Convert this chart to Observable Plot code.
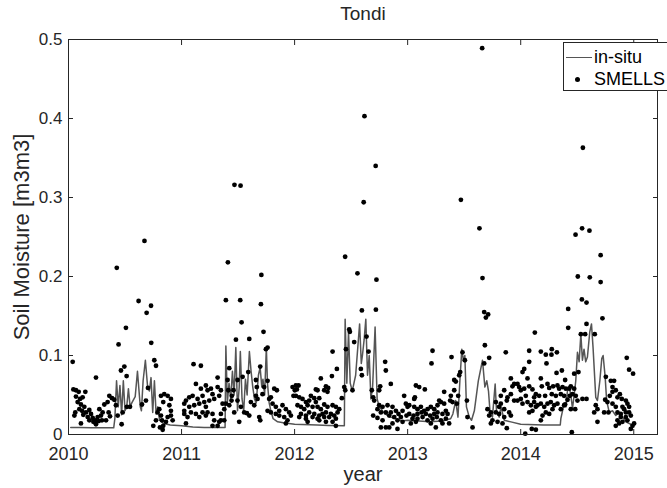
<!DOCTYPE html>
<html><head><meta charset="utf-8">
<script src="https://cdn.jsdelivr.net/npm/d3@7"></script>
<script src="https://cdn.jsdelivr.net/npm/@observablehq/plot@0.6"></script>
<style>
html,body{margin:0;padding:0;background:#fff;overflow:hidden;}
#wrap{position:relative;width:667px;height:488px;overflow:hidden;}
#legend{position:absolute;left:563px;top:42px;width:120px;height:47px;border:1px solid #262626;background:#fff;font-family:"Liberation Sans",Arial,sans-serif;font-size:18px;color:#000;}
#legend .row{position:absolute;left:0;height:22px;line-height:22px;white-space:nowrap;}
#legend .sw{display:inline-block;position:relative;width:28px;height:22px;vertical-align:top;}
#legend .ln{position:absolute;left:2px;top:11px;width:26px;height:0;border-top:1.4px solid #555;}
#legend .dt{position:absolute;left:11px;top:9px;width:5px;height:5px;border-radius:50%;background:#000;}
#legend .tx{display:inline-block;vertical-align:top;margin-left:2px;}
</style></head><body><div id="wrap"></div>
<script>
const title = "Tondi";
const xLabel = "year";
const yLabel = "Soil Moisture [m3m3]";
const seriesNames = ["in-situ", "SMELLS"];
const xTicks = [2010, 2011, 2012, 2013, 2014, 2015];
const yTicks = [0, 0.1, 0.2, 0.3, 0.4, 0.5];
const xDomain = [2010, 2015.21];
const yDomain = [0, 0.5];

const insitu = [
[2010.02,0.009],[2010.1,0.0088],[2010.2,0.0086],[2010.3,0.0085],[2010.4,0.0085],
[2010.41,0.02],[2010.425,0.068],[2010.44,0.035],[2010.455,0.062],[2010.47,0.025],[2010.485,0.068],[2010.5,0.03],[2010.515,0.035],[2010.53,0.058],[2010.545,0.035],[2010.56,0.04],[2010.59,0.048],[2010.61,0.08],[2010.635,0.035],[2010.645,0.03],[2010.66,0.068],[2010.68,0.094],[2010.7,0.06],[2010.715,0.055],[2010.73,0.072],[2010.745,0.028],[2010.76,0.068],[2010.775,0.026],[2010.79,0.035],[2010.805,0.018],[2010.84,0.014],[2010.9,0.012],
[2011.0,0.011],[2011.1,0.0095],[2011.2,0.009],[2011.3,0.0088],[2011.385,0.0088],[2011.392,0.112],[2011.405,0.04],[2011.42,0.065],[2011.435,0.045],[2011.45,0.08],[2011.465,0.05],[2011.48,0.11],[2011.495,0.03],[2011.51,0.06],[2011.52,0.105],[2011.535,0.045],[2011.55,0.03],[2011.565,0.07],[2011.58,0.05],[2011.6,0.105],[2011.615,0.08],[2011.63,0.06],[2011.645,0.045],[2011.66,0.04],[2011.68,0.075],[2011.695,0.085],[2011.71,0.06],[2011.72,0.07],[2011.735,0.05],[2011.75,0.11],[2011.76,0.065],[2011.775,0.04],[2011.79,0.03],[2011.81,0.02],[2011.85,0.016],[2011.9,0.015],
[2012.0,0.013],[2012.2,0.012],[2012.3,0.0115],[2012.44,0.011],[2012.447,0.146],[2012.462,0.065],[2012.477,0.13],[2012.492,0.065],[2012.51,0.055],[2012.525,0.065],[2012.54,0.075],[2012.575,0.14],[2012.59,0.09],[2012.6,0.1],[2012.615,0.12],[2012.63,0.146],[2012.645,0.075],[2012.66,0.1],[2012.675,0.045],[2012.69,0.06],[2012.712,0.136],[2012.73,0.045],[2012.75,0.035],[2012.8,0.026],[2012.85,0.022],[2012.9,0.02],[2012.95,0.017],
[2013.0,0.018],[2013.1,0.017],[2013.2,0.016],[2013.3,0.017],[2013.38,0.02],[2013.4,0.026],[2013.425,0.043],[2013.445,0.022],[2013.462,0.068],[2013.479,0.108],[2013.494,0.093],[2013.506,0.1],[2013.52,0.035],[2013.545,0.022],[2013.565,0.018],[2013.59,0.03],[2013.625,0.068],[2013.662,0.094],[2013.683,0.06],[2013.7,0.068],[2013.715,0.055],[2013.73,0.026],[2013.75,0.022],[2013.774,0.064],[2013.786,0.03],[2013.81,0.022],[2013.825,0.035],[2013.855,0.018],[2013.913,0.016],
[2014.0,0.013],[2014.2,0.012],[2014.35,0.012],[2014.355,0.02],[2014.384,0.039],[2014.4,0.035],[2014.414,0.056],[2014.429,0.06],[2014.443,0.05],[2014.458,0.033],[2014.473,0.05],[2014.487,0.068],[2014.502,0.104],[2014.517,0.092],[2014.532,0.127],[2014.546,0.094],[2014.56,0.108],[2014.575,0.092],[2014.59,0.098],[2014.611,0.13],[2014.626,0.14],[2014.64,0.11],[2014.664,0.047],[2014.679,0.043],[2014.7,0.068],[2014.717,0.096],[2014.729,0.1],[2014.747,0.073],[2014.76,0.043],[2014.783,0.028],[2014.812,0.03],[2014.841,0.024],[2014.87,0.028],[2014.9,0.022],[2014.93,0.016],[2014.974,0.013],[2015.0,0.012]
];

const smells2010 = [
[2010.037,0.092],[2010.043,0.057],[2010.066,0.056],[2010.090,0.054],[2010.149,0.054],[2010.066,0.048],[2010.102,0.045],[2010.125,0.047],[2010.081,0.041],[2010.110,0.038],[2010.140,0.035],[2010.096,0.032],[2010.120,0.030],[2010.155,0.028],[2010.184,0.031],[2010.060,0.028],[2010.052,0.024],[2010.131,0.025],[2010.170,0.022],[2010.199,0.026],[2010.214,0.021],[2010.237,0.018],[2010.258,0.022],[2010.220,0.016],[2010.243,0.013],[2010.267,0.017],[2010.287,0.024],[2010.302,0.028],[2010.273,0.032],[2010.317,0.038],[2010.110,0.014],[2010.184,0.018],[2010.296,0.018],[2010.346,0.041],[2010.361,0.049],[2010.385,0.046],[2010.405,0.044],[2010.355,0.028],[2010.367,0.023],[2010.332,0.018],[2010.243,0.072],[2010.464,0.081],[2010.494,0.086],[2010.443,0.114],[2010.508,0.135],[2010.514,0.074],[2010.620,0.169],[2010.691,0.154],[2010.730,0.163],[2010.732,0.116],[2010.759,0.094],[2010.774,0.087],[2010.470,0.013],[2010.517,0.035],[2010.544,0.035],[2010.650,0.038],[2010.685,0.043],[2010.703,0.059],[2010.750,0.011],[2010.774,0.018],[2010.788,0.028],[2010.803,0.032],[2010.818,0.049],[2010.847,0.051],[2010.877,0.049],[2010.906,0.045],[2010.892,0.037],[2010.906,0.030],[2010.838,0.041],[2010.818,0.024],[2010.827,0.018],[2010.838,0.011],[2010.809,0.009],[2010.833,0.006],[2010.862,0.016],[2010.877,0.022],[2010.906,0.024],[2010.921,0.018],[2010.435,0.024],[2010.420,0.037],[2010.479,0.028],[2010.427,0.211],[2010.672,0.245]
];
const smells2011 = [
[2011.392,0.170],[2011.519,0.170],[2011.702,0.165],[2011.531,0.142],[2011.725,0.130],[2011.481,0.120],[2011.599,0.121],[2011.761,0.110],[2011.746,0.108],[2011.106,0.089],[2011.171,0.087],[2011.422,0.084],[2011.590,0.079],[2011.696,0.086],[2011.319,0.072],[2011.407,0.069],[2011.495,0.069],[2011.540,0.073],[2011.658,0.069],[2011.761,0.068],[2011.127,0.064],[2011.215,0.062],[2011.260,0.058],[2011.319,0.060],[2011.348,0.056],
[2011.171,0.058],[2011.230,0.056],[2011.186,0.049],[2011.142,0.045],[2011.098,0.049],[2011.068,0.047],[2011.039,0.043],[2011.024,0.039],[2011.068,0.035],[2011.112,0.037],[2011.157,0.039],[2011.201,0.041],[2011.245,0.043],[2011.274,0.051],[2011.289,0.045],[2011.333,0.049],[2011.363,0.039],[2011.378,0.032],[2011.422,0.037],[2011.460,0.056],[2011.445,0.049],[2011.525,0.035],[2011.554,0.028],[2011.495,0.043],[2011.466,0.028],[2011.510,0.016],[2011.599,0.024],[2011.687,0.022],[2011.696,0.018],[2011.643,0.037],[2011.672,0.045],[2011.731,0.060],[2011.716,0.051],[2011.775,0.045],[2011.790,0.047],[2011.820,0.058],[2011.843,0.056],[2011.805,0.039],[2011.834,0.035],[2011.864,0.030],[2011.893,0.037],[2011.923,0.032],[2011.952,0.028],[2011.967,0.024],[2011.937,0.018],[2011.908,0.022],[2011.864,0.024],[2011.834,0.026],[2011.790,0.028],[2011.761,0.030],[2011.982,0.060],[2012.002,0.056],[2011.990,0.049],[2011.923,0.014],
[2011.024,0.026],[2011.053,0.022],[2011.083,0.028],[2011.127,0.026],[2011.157,0.022],[2011.186,0.028],[2011.215,0.024],[2011.230,0.028],[2011.274,0.026],[2011.289,0.018],[2011.333,0.016],[2011.274,0.011],[2011.319,0.011],[2011.348,0.018],[2011.378,0.018],[2011.039,0.014],[2011.024,0.030],[2011.348,0.026],[2011.392,0.039],[2011.215,0.035],[2011.413,0.056],[2011.442,0.043],[2011.578,0.027],[2011.613,0.041],[2011.658,0.049],[2011.666,0.060],
[2011.410,0.218],[2011.468,0.316],[2011.522,0.315],[2011.706,0.202]
];
const smells2012 = [
[2012.595,0.157],[2012.719,0.158],[2012.483,0.133],[2012.489,0.130],[2012.527,0.117],[2012.636,0.124],[2012.336,0.105],[2012.454,0.108],[2012.654,0.105],[2012.374,0.083],[2012.330,0.074],[2012.586,0.083],[2012.595,0.075],[2012.801,0.092],[2012.807,0.081],[2012.757,0.061],[2012.851,0.064],[2012.232,0.071],[2012.011,0.062],[2012.035,0.062],[2012.020,0.057],[2012.203,0.056],[2012.188,0.057],[2012.277,0.061],[2012.297,0.059],[2012.262,0.056],[2012.291,0.054],
[2012.144,0.049],[2012.174,0.046],[2012.218,0.046],[2012.188,0.041],[2012.129,0.043],[2012.100,0.041],[2012.070,0.045],[2012.041,0.047],[2012.011,0.049],[2012.026,0.037],[2012.056,0.035],[2012.085,0.032],[2012.115,0.037],[2012.159,0.035],[2012.203,0.035],[2012.232,0.032],[2012.262,0.038],[2012.291,0.035],[2012.336,0.037],[2012.365,0.035],[2012.395,0.032],[2012.380,0.028],[2012.350,0.024],[2012.321,0.026],[2012.277,0.028],[2012.247,0.026],[2012.218,0.024],[2012.174,0.026],[2012.129,0.028],[2012.100,0.024],[2012.056,0.026],[2012.041,0.022],[2012.100,0.020],[2012.159,0.022],[2012.203,0.020],[2012.262,0.022],[2012.306,0.022],[2012.365,0.020],[2012.365,0.011],[2012.336,0.016],[2012.277,0.016],[2012.218,0.018],[2012.115,0.016],[2012.418,0.046],[2012.439,0.060],[2012.448,0.056],[2012.512,0.056],[2012.683,0.056],[2012.695,0.047],[2012.704,0.043],[2012.733,0.032],[2012.748,0.037],[2012.763,0.028],[2012.695,0.024],[2012.748,0.056],[2012.778,0.035],[2012.807,0.028],[2012.822,0.037],[2012.837,0.024],[2012.851,0.028],[2012.866,0.035],[2012.881,0.022],[2012.896,0.030],[2012.919,0.026],[2012.940,0.022],[2012.955,0.030],[2012.969,0.049],[2012.984,0.039],[2012.999,0.035],[2012.990,0.024],[2012.955,0.016],[2012.910,0.018],[2012.866,0.014],[2012.837,0.009],[2012.807,0.009],[2012.778,0.018],[2012.763,0.009],[2012.910,0.007],[2012.733,0.021],
[2012.447,0.225],[2012.556,0.204],[2012.618,0.403],[2012.611,0.294],[2012.717,0.340],[2012.724,0.196]
];
const smells2013 = [
[2013.677,0.155],[2013.712,0.152],[2013.692,0.148],[2013.220,0.106],[2013.683,0.113],[2013.485,0.104],[2013.506,0.094],[2013.868,0.104],[2013.211,0.090],[2013.388,0.098],[2013.721,0.097],[2013.677,0.090],[2013.465,0.079],[2013.412,0.069],[2013.426,0.067],[2013.456,0.075],[2013.913,0.071],
[2013.942,0.064],[2013.927,0.061],[2013.913,0.051],[2013.883,0.047],[2013.854,0.056],[2013.877,0.043],[2013.942,0.043],[2013.824,0.039],[2013.809,0.035],[2013.854,0.032],[2013.898,0.028],[2013.913,0.024],[2013.854,0.022],[2013.809,0.026],[2013.780,0.028],[2013.736,0.028],[2013.721,0.024],[2013.750,0.018],[2013.795,0.016],[2013.839,0.014],[2013.736,0.014],[2013.706,0.032],[2013.824,0.049],[2013.780,0.041],
[2013.073,0.062],[2013.102,0.060],[2013.152,0.057],[2013.064,0.047],[2013.058,0.045],[2013.323,0.054],[2013.382,0.049],[2013.412,0.056],[2013.376,0.043],[2013.397,0.041],[2013.435,0.039],[2013.014,0.037],[2013.058,0.035],[2013.087,0.032],[2013.117,0.035],[2013.146,0.030],[2013.176,0.032],[2013.205,0.035],[2013.235,0.032],[2013.264,0.037],[2013.279,0.043],[2013.294,0.041],[2013.323,0.039],[2013.338,0.030],[2013.353,0.026],[2013.308,0.026],[2013.264,0.028],[2013.235,0.026],[2013.199,0.024],[2013.161,0.026],[2013.123,0.028],[2013.087,0.026],[2013.052,0.024],[2013.014,0.026],[2013.043,0.020],[2013.087,0.020],[2013.132,0.022],[2013.176,0.018],[2013.220,0.020],[2013.258,0.022],[2013.294,0.018],[2013.338,0.020],[2013.367,0.014],[2013.308,0.014],[2013.249,0.009],[2013.205,0.014],[2013.028,0.014],[2013.073,0.016],[2013.529,0.022],[2013.574,0.009],[2013.524,0.043],[2013.877,0.008],[2013.447,0.049],
[2013.471,0.297],[2013.635,0.261],[2013.659,0.489],[2013.662,0.198]
];
const smells2014 = [
[2014.541,0.171],[2014.582,0.167],[2014.420,0.159],[2014.723,0.147],[2014.582,0.140],[2014.420,0.135],[2014.532,0.127],[2014.570,0.127],[2014.655,0.127],[2014.125,0.129],[2014.075,0.106],[2014.178,0.105],[2014.222,0.101],[2014.272,0.101],[2014.320,0.104],[2014.275,0.108],[2014.938,0.097],[2014.075,0.092],[2014.228,0.090],[2014.031,0.083],[2014.016,0.079],[2014.364,0.081],[2014.317,0.078],[2014.959,0.082],[2014.994,0.077],[2014.060,0.071],[2014.178,0.071],[2014.393,0.069],[2014.473,0.077],[2014.511,0.079],[2014.753,0.073],[2014.797,0.068],[2014.826,0.068],
[2013.972,0.064],[2013.986,0.060],[2014.001,0.056],[2014.031,0.058],[2014.075,0.061],[2014.104,0.057],[2014.134,0.051],[2014.163,0.049],[2014.187,0.061],[2014.237,0.064],[2014.252,0.059],[2014.287,0.061],[2014.325,0.062],[2014.340,0.058],[2014.370,0.060],[2014.399,0.058],[2014.429,0.058],[2014.443,0.061],[2014.473,0.058],[2014.275,0.051],[2014.311,0.049],[2014.355,0.051],[2014.384,0.049],[2014.216,0.049],[2014.119,0.047],[2014.045,0.049],[2014.001,0.045],[2013.972,0.043],[2014.016,0.039],[2014.060,0.041],[2014.090,0.037],[2014.119,0.041],[2014.149,0.037],[2014.178,0.039],[2014.208,0.035],[2014.237,0.039],[2014.266,0.041],[2014.296,0.037],[2014.325,0.039],[2014.355,0.032],[2014.384,0.037],[2014.222,0.028],[2014.193,0.024],[2014.252,0.026],[2014.281,0.032],[2014.104,0.030],[2014.075,0.028],[2014.134,0.035],[2014.443,0.032],[2014.482,0.032],[2014.546,0.045],[2014.582,0.045],[2014.664,0.037],[2014.679,0.032],[2014.650,0.028],[2014.679,0.016],[2014.747,0.044],[2014.767,0.041],[2014.738,0.028],[2014.776,0.028],[2014.812,0.060],[2014.812,0.054],[2014.788,0.049],[2014.841,0.056],[2014.856,0.047],[2014.877,0.051],[2014.894,0.045],[2014.812,0.039],[2014.841,0.035],[2014.856,0.028],[2014.885,0.026],[2014.900,0.035],[2014.930,0.043],[2014.944,0.039],[2014.959,0.035],[2014.915,0.032],[2014.930,0.028],[2014.959,0.028],[2014.885,0.022],[2014.856,0.018],[2014.871,0.014],[2014.900,0.016],[2014.944,0.018],[2014.974,0.024],[2014.989,0.011],[2015.003,0.014],[2014.974,0.007],[2014.930,0.022],[2014.841,0.011],[2014.178,0.018],[2014.134,0.006],[2014.098,0.007],[2014.040,0.001],[2014.452,0.003],[2014.393,0.038],[2014.414,0.044],[2014.434,0.049],[2014.458,0.051],[2014.487,0.049],[2014.502,0.043],
[2014.485,0.253],[2014.505,0.200],[2014.543,0.261],[2014.550,0.363],[2014.608,0.258],[2014.611,0.199],[2014.707,0.227],[2014.707,0.193]
];

const smells = [...smells2010, ...smells2011, ...smells2012, ...smells2013, ...smells2014];
const axisColor = "#262626";
const font = "'Liberation Sans', Arial, Helvetica, sans-serif";

const chart = Plot.plot({
  width: 667,
  height: 488,
  marginTop: 39,
  marginBottom: 54,
  marginLeft: 68,
  marginRight: 10,
  style: {fontFamily: font, fontSize: "18px", color: axisColor, background: "#fff", overflow: "visible"},
  x: {domain: xDomain},
  y: {domain: yDomain},
  marks: [
    Plot.line(insitu, {x: d => d[0], y: d => d[1], stroke: "#555", strokeWidth: 1.5}),
    Plot.dot(smells, {x: d => d[0], y: d => d[1], r: 2.4, fill: "#000", stroke: null}),
    Plot.frame({stroke: axisColor, strokeWidth: 1}),
    Plot.axisX({anchor: "bottom", ticks: xTicks, tickSize: -5, tickPadding: 18, tickFormat: d => String(d), label: null, stroke: axisColor, fill: axisColor, fontSize: 18}),
    Plot.axisX({anchor: "top", ticks: xTicks, tickSize: -5, tickFormat: () => null, label: null, stroke: axisColor}),
    Plot.axisY({anchor: "left", ticks: yTicks, tickSize: -5, tickPadding: 11, tickFormat: d => String(d), label: null, stroke: axisColor, fill: axisColor, fontSize: 17}),
    Plot.axisY({anchor: "right", ticks: yTicks, tickSize: -5, tickFormat: () => null, label: null, stroke: axisColor}),
    Plot.text([title], {frameAnchor: "top", dy: -26, lineAnchor: "middle", text: d => d, fontSize: 19, fill: axisColor}),
    Plot.text([xLabel], {frameAnchor: "bottom", dy: 40, lineAnchor: "middle", text: d => d, fontSize: 20, fill: axisColor}),
    Plot.text([yLabel], {frameAnchor: "left", dx: -47, rotate: -90, textAnchor: "middle", lineAnchor: "middle", text: d => d, fontSize: 22, fill: axisColor})
  ]
});

const wrap = document.getElementById("wrap");
wrap.appendChild(chart);
const legend = document.createElement("div");
legend.id = "legend";
legend.innerHTML =
  `<div class="row" style="top:3px"><span class="sw"><span class="ln"></span></span><span class="tx">${seriesNames[0]}</span></div>` +
  `<div class="row" style="top:25px"><span class="sw"><span class="dt"></span></span><span class="tx">${seriesNames[1]}</span></div>`;
wrap.appendChild(legend);
</script>
</body></html>
